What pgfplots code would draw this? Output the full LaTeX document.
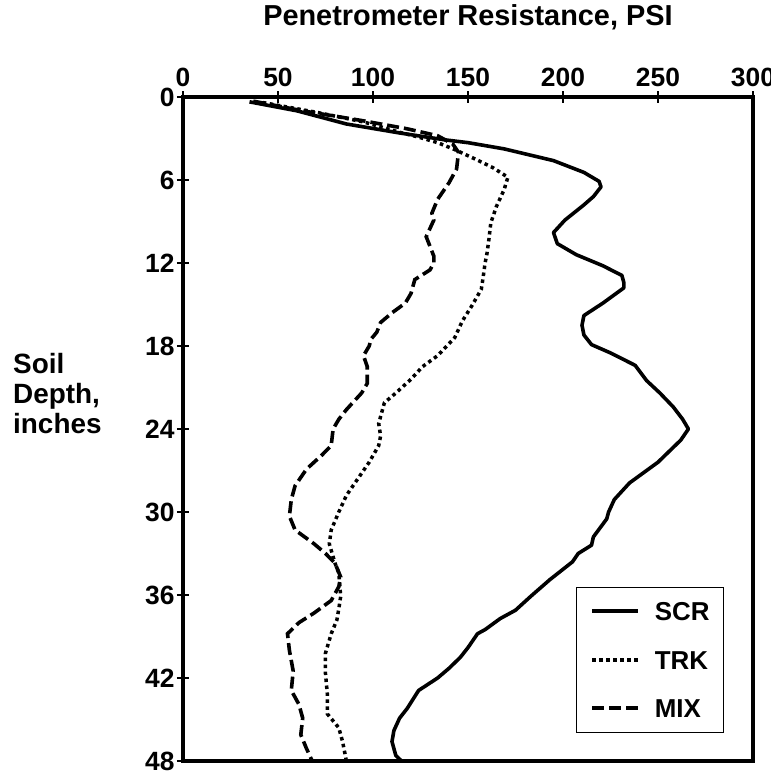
\documentclass[border=0pt]{standalone}
\usepackage{pgfplots}
\pgfplotsset{compat=1.18}
\usepackage{fontspec}
\setmainfont{Liberation Sans}
\begin{document}
\begin{tikzpicture}
\begin{axis}[
  scale only axis, width=570bp, height=664bp,
  xmin=0, xmax=300, ymin=0, ymax=48, y dir=reverse,
  xtick={0,50,...,300}, ytick={0,6,...,48},
  xtick pos=right, ytick pos=left, xticklabel pos=right,
  tick align=center, major tick length=12bp,
  tick style={line width=1.4bp, black},
  axis line style={line width=4bp},
  /pgf/number format/assume math mode=true,
  ticklabel style={font=\fontsize{26.5}{30}\selectfont\bfseries},
  xticklabel style={yshift=1bp},
  yticklabel style={xshift=1bp},
  title={Penetrometer Resistance, PSI},
  title style={font=\fontsize{29}{32}\selectfont\bfseries, at={(0.5,1)}, anchor=base, yshift=66bp},
  ylabel={Soil\\Depth,\\inches},
  ylabel style={rotate=-90, font=\fontsize{28}{30}\selectfont\bfseries, align=left, anchor=west, at={(0,0.553)}, xshift=-170bp, inner sep=0pt},
  clip=false,
  legend cell align=left,
  legend style={at={(1,0)}, anchor=south east, xshift=-29bp, yshift=28bp, draw=black, line width=0.8bp,
    inner xsep=14bp, inner ysep=15bp, row sep=30bp, column sep=15bp,
    font=\fontsize{26}{30}\selectfont\bfseries,
    nodes={inner sep=0pt, text height=18.5bp, text depth=0pt}},
  legend image code/.code={\draw[#1, line width=3.8bp] (0bp,0bp) -- (46bp,0bp);},
]
\addplot[black, line width=3.6bp, line join=round] coordinates {
(35,0.35) (60,1.0) (86,1.95) (114,2.6) (138,3.1) (150,3.3) (169,3.75) (195,4.6) (211,5.45) (219,6.1) (220,6.5) (216,7.2) (211,7.8) (201,8.9) (195,9.8) (197,10.6) (207,11.4) (221,12.2) (231,12.9) (232,13.4) (232,13.8) (221,14.9) (211,15.8) (210,16.5) (211,17.2) (215,17.9) (225,18.5) (238,19.4) (244,20.5) (251,21.4) (258,22.4) (263,23.3) (266,24.0) (262,24.8) (256,25.6) (250,26.4) (242,27.2) (235,27.9) (227,29.1) (224,30.0) (223,30.5) (216,31.8) (215,32.4) (208,33.0) (205,33.6) (193,34.9) (183,36.1) (175,37.1) (167,37.7) (159,38.5) (155,38.8) (150,39.8) (146,40.5) (140,41.3) (134,42) (124,42.9) (118,44.2) (114,44.9) (111,45.8) (110,46.6) (112,47.6) (115,48)
};
\addlegendentry{SCR}
\addplot[black, line width=3.5bp, dash pattern=on 3.5bp off 3.5bp] coordinates {
(42,0.4) (70,1.1) (95,1.8) (114,2.55) (124,2.9) (134,3.3) (143,3.8) (154,4.5) (163,5.1) (171,5.8) (169,6.7) (165,7.9) (162,9.1) (161,10.3) (160,11.3) (159,12.0) (158,13) (157,13.9) (152,15.1) (147,16.2) (143,17.4) (134,18.7) (126,19.5) (120,20.4) (112,21.4) (106,22.1) (103,23.6) (104,24.5) (103,25.2) (98,26.4) (92,27.6) (86,28.8) (82,30) (78,31.3) (77,32.3) (80,33.7) (82,34.4) (83,36.1) (82,37.0) (81,37.8) (78,38.8) (75,40.2) (75,41.7) (76,43.2) (76,44.6) (82,45.6) (84,46.6) (86,48)
};
\addlegendentry{TRK}
\addplot[black, line width=3.6bp, dash pattern=on 12bp off 5bp] coordinates {
(37,0.3) (63,1.0) (94,1.7) (118,2.3) (134,2.8) (142,3.4) (145,4.0) (144,5.2) (140,6.2) (134,7.4) (131,8.4) (132,8.9) (128,10.1) (130,10.8) (132,11.5) (132,12) (130,12.5) (122,13.2) (120,14.2) (117,14.9) (110,15.6) (104,16.3) (102,17) (99,17.5) (98,18) (95,18.7) (97,19.5) (97,20.7) (94,21.4) (86,22.6) (82,23.3) (79,24) (78,25.2) (73,25.9) (65,26.9) (59,28.1) (57,29.1) (56,30.3) (59,31.3) (69,32.3) (75,33) (80,33.7) (83,34.7) (82,35.4) (78,36.4) (69,37.3) (61,38.0) (55,38.8) (56,40) (58,41.5) (57,42.9) (61,43.9) (63,44.9) (62,46.1) (65,47.1) (68,48)
};
\addlegendentry{MIX}
\end{axis}
\pgfresetboundingbox
\path ([xshift=-183bp,yshift=-13bp]current axis.south west) rectangle ([xshift=18bp,yshift=97bp]current axis.north east);
\end{tikzpicture}
\end{document}
